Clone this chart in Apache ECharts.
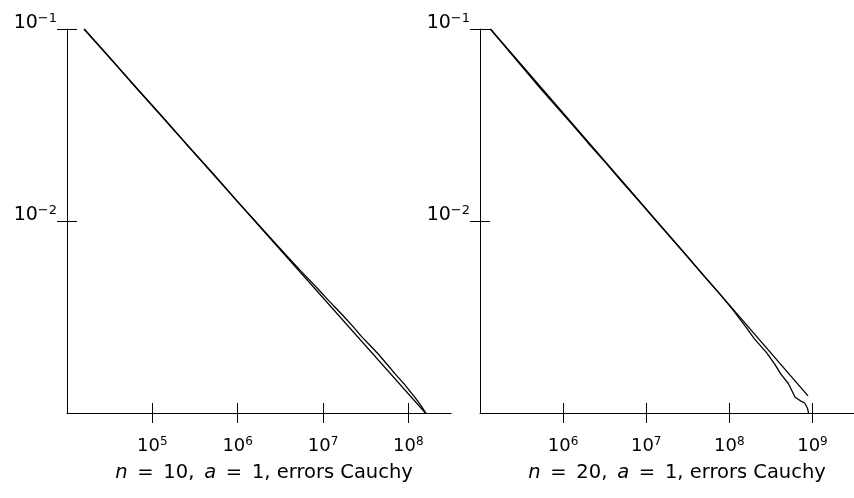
<!DOCTYPE html>
<html>
<head>
<meta charset="utf-8">
<script src="https://cdn.jsdelivr.net/npm/echarts@6/dist/echarts.min.js"></script>
<style>
  html, body { margin: 0; padding: 0; background: #fff; }
  #main { width: 854px; height: 498px; }
</style>
</head>
<body>
<div id="main"></div>
<script>
// n = 10 panel
const leftTheoryX = [1.585e4, 1.641e8];
const leftTheoryY = [0.1, 9.83e-4];
const leftEmpX = [1.585e4, 3.162e4, 6.310e4, 1.259e5, 2.512e5, 5.012e5, 1.0e6, 1.995e6, 3.548e6,
  5.623e6, 8.913e6, 1.122e7, 1.413e7, 1.778e7, 2.239e7, 2.818e7, 3.548e7, 4.467e7, 5.623e7,
  7.079e7, 8.913e7, 1.202e8, 1.413e8, 1.641e8];
const leftEmpY = [0.1, 0.07112, 0.05, 0.03565, 0.02512, 0.01791, 0.01262, 0.008995, 0.006776,
  0.005433, 0.004385, 0.003917, 0.003524, 0.003162, 0.002825, 0.002506, 0.002254, 0.002023, 0.001795,
  0.001589, 0.001419, 0.001202, 0.001089, 0.000983];

// n = 20 panel
const rightTheoryX = [1.334e5, 8.851e8];
const rightTheoryY = [0.1, 1.227e-3];
const rightEmpX = [1.334e5, 1.995e5, 3.162e5, 5.012e5, 7.943e5, 1.259e6, 1.995e6, 3.162e6, 5.012e6,
  7.943e6, 1.259e7, 1.995e7, 3.162e7, 5.012e7, 7.943e7, 1.122e8, 1.585e8, 1.995e8, 2.818e8,
  3.548e8, 4.169e8, 5.129e8, 6.166e8, 7.079e8, 8.054e8, 8.710e8, 8.974e8];
const rightEmpY = [0.1, 0.08122, 0.06403, 0.05064, 0.04030, 0.03217, 0.02550, 0.02039, 0.01616,
  0.01290, 0.01022, 0.008154, 0.006494, 0.005134, 0.004097, 0.003416, 0.002802, 0.002441, 0.002058,
  0.001788, 0.001594, 0.001424, 0.001211, 0.001161, 0.001127, 0.001059, 0.001];

// axes
const leftXRange = [1e4, 3.1623e8];
const rightXRange = [1e5, 3.1623e9];
const yRange = [1e-3, 1e-1];
const leftXTicks = [1e5, 1e6, 1e7, 1e8];
const rightXTicks = [1e6, 1e7, 1e8, 1e9];
const yTicks = [1e-1, 1e-2];
const panelTitles = [
  "{i|n}\u2002=\u200210,\u2002{i|a}\u2002=\u20021, errors Cauchy",
  "{i|n}\u2002=\u200220,\u2002{i|a}\u2002=\u20021, errors Cauchy"
];

const pairs = (xs, ys) => xs.map((x, i) => [x, ys[i]]);
const powLabel = (v) => {
  const e = Math.round(Math.log10(v));
  return "{b|10}{e|" + (e < 0 ? "\u2212" + (-e) : e) + "}";
};

const font = "DejaVu Sans";
const black = "#000";

function xAxes(grid, range, ticks) {
  const base = {
    type: "log", logBase: 10, gridIndex: grid, min: range[0], max: range[1],
    position: "bottom", offset: 0, splitLine: { show: false }, minorTick: { show: false }
  };
  return [
    {
      ...base,
      axisLine: { lineStyle: { color: black, width: 1 } },
      axisTick: { inside: false, length: 10, customValues: ticks, lineStyle: { color: black } },
      axisLabel: {
        customValues: ticks, formatter: powLabel, margin: 23, color: black,
        rich: {
          b: { fontFamily: font, fontSize: 18, lineHeight: 20, color: black },
          e: { fontFamily: font, fontSize: 12, lineHeight: 2, verticalAlign: "top", color: black }
        }
      }
    },
    {
      ...base,
      axisLine: { show: false },
      axisTick: { inside: true, length: 10, customValues: ticks, lineStyle: { color: black } },
      axisLabel: { show: false }
    }
  ];
}

function yAxes(grid) {
  const base = {
    type: "log", logBase: 10, gridIndex: grid, min: yRange[0], max: yRange[1],
    position: "left", offset: 0, splitLine: { show: false }, minorTick: { show: false }
  };
  return [
    {
      ...base,
      axisLine: { lineStyle: { color: black, width: 1 } },
      axisTick: { inside: false, length: 10, customValues: yTicks, lineStyle: { color: black } },
      axisLabel: {
        customValues: yTicks, formatter: powLabel, margin: 10, color: black,
        padding: [0, 0, 11, 0],
        rich: {
          b: { fontFamily: font, fontSize: 19, lineHeight: 22, color: black },
          e: { fontFamily: font, fontSize: 13, lineHeight: 2, verticalAlign: "top", color: black }
        }
      }
    },
    {
      ...base,
      axisLine: { show: false },
      axisTick: { inside: true, length: 10, customValues: yTicks, lineStyle: { color: black } },
      axisLabel: { show: false }
    }
  ];
}

const lineStyle = { color: black, width: 1.3 };
const line = (xi, yi, data) => ({
  type: "line", xAxisIndex: xi, yAxisIndex: yi, data, symbol: "none",
  lineStyle, silent: true
});

const myChart = echarts.init(document.getElementById("main"));
const option = {
  animation: false,
  backgroundColor: "#fff",
  title: panelTitles.map((t, i) => ({
    text: t, left: i === 0 ? 264 : 677, top: 463, textAlign: "center", padding: 0,
    textStyle: {
      fontFamily: font, fontSize: 19.5, fontWeight: "normal", color: black, lineHeight: 20,
      rich: { i: { fontFamily: font, fontSize: 19.5, fontStyle: "italic", color: black, lineHeight: 20 } }
    }
  })),
  grid: [
    { left: 67, top: 29, width: 384, height: 384 },
    { left: 480, top: 29, width: 384, height: 384 }
  ],
  xAxis: [...xAxes(0, leftXRange, leftXTicks), ...xAxes(1, rightXRange, rightXTicks)],
  yAxis: [...yAxes(0), ...yAxes(1)],
  series: [
    line(0, 0, pairs(leftTheoryX, leftTheoryY)),
    line(0, 0, pairs(leftEmpX, leftEmpY)),
    line(2, 2, pairs(rightTheoryX, rightTheoryY)),
    line(2, 2, pairs(rightEmpX, rightEmpY))
  ]
};
option && myChart.setOption(option);
</script>
</body>
</html>
